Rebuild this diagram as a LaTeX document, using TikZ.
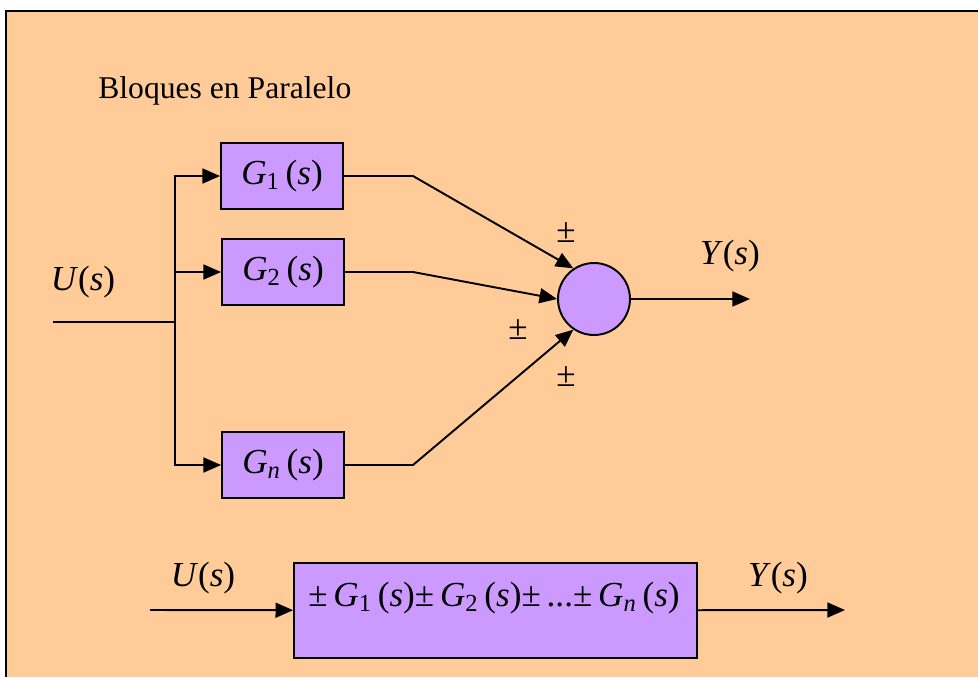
\documentclass[tikz,border=0pt]{standalone}
\usepackage{fontspec}
\setmainfont{Liberation Serif}
\usetikzlibrary{positioning,arrows.meta}
\definecolor{fondo}{HTML}{FFCC99}
\definecolor{lila}{HTML}{CC99FF}
\newcommand{\Gde}[1]{\textit{G}\textsubscript{#1}\,(\textit{s})}
\newcommand{\var}[1]{\textit{#1}(\textit{s})}
\tikzset{
  bloque/.style={rectangle,draw,line width=1.1pt,fill=lila,minimum width=2.44cm,minimum height=1.32cm,inner sep=0pt,font=\fontsize{20}{24}\selectfont},
  sumador/.style={circle,draw,line width=1.1pt,fill=lila,minimum size=1.44cm,inner sep=0pt},
  flecha/.style={-{Triangle[length=10pt,width=8.5pt]},line width=1.1pt},
  senal/.style={font=\fontsize{20}{24}\selectfont}
}

\begin{document}
\begin{tikzpicture}[x=0.02cm,y=-0.02cm]
\useasboundingbox (0,0) rectangle (978,677);
\fill[white] (0,0) rectangle (978,677);
\fill[fondo] (6,11) rectangle (978,677);
\draw[line width=1.5pt] (6,677) -- (6,11) -- (978,11);

\node[anchor=base west,inner sep=0pt,font=\fontsize{18}{22}\selectfont] (titulo) at (98,98) {Bloques en Paralelo};

% bloques en paralelo
\node[bloque] (g1) at (282,176) {\Gde{1}};
\node[bloque] (g2) at (283,272) {\Gde{2}};
\node[bloque] (gn) at (283,465) {\Gde{\textit{n}}};
\node[sumador] (suma) at (594,299) {};

\coordinate (ent) at (53,322);
\coordinate (rama) at (175,322);
\draw[line width=1.1pt] (ent) -- (rama);
\draw[flecha] (rama) |- (g1);
\draw[flecha] (rama) |- (g2);
\draw[flecha] (rama) |- (gn);

\coordinate (q1) at (413,176);
\coordinate (q2) at (413,272);
\coordinate (qn) at (413,465);
\draw[flecha] (g1) -- (q1) -- (suma.124);
\draw[flecha] (g2) -- (q2) -- (suma.west);
\draw[flecha] (gn) -- (qn) -- (suma.236);

\coordinate (sal) at (750,299);
\draw[flecha] (suma) -- (sal);

\node[senal] (u1) at (83,282) {\var{U}};
\node[senal] (y1) at (730,256) {\var{Y}};
\node[senal] (s1) at (566,233) {±};
\node[senal] (s2) at (518,330) {±};
\node[senal] (s3) at (566,377) {±};

% bloque equivalente
\node[bloque,minimum width=8.06cm,minimum height=1.9cm] (total) at (495.5,610.5) {};
\node[senal] (expr) at (494,598) {±\,\Gde{1}±\,\Gde{2}±\,...±\,\Gde{\textit{n}}};
\coordinate (ent2) at (150,610);
\coordinate (sal2) at (845,610);
\draw[flecha] (ent2) -- (total);
\draw[flecha] (total) -- (sal2);
\node[senal] (u2) at (203,578) {\var{U}};
\node[senal] (y2) at (778,578) {\var{Y}};
\end{tikzpicture}
\end{document}
